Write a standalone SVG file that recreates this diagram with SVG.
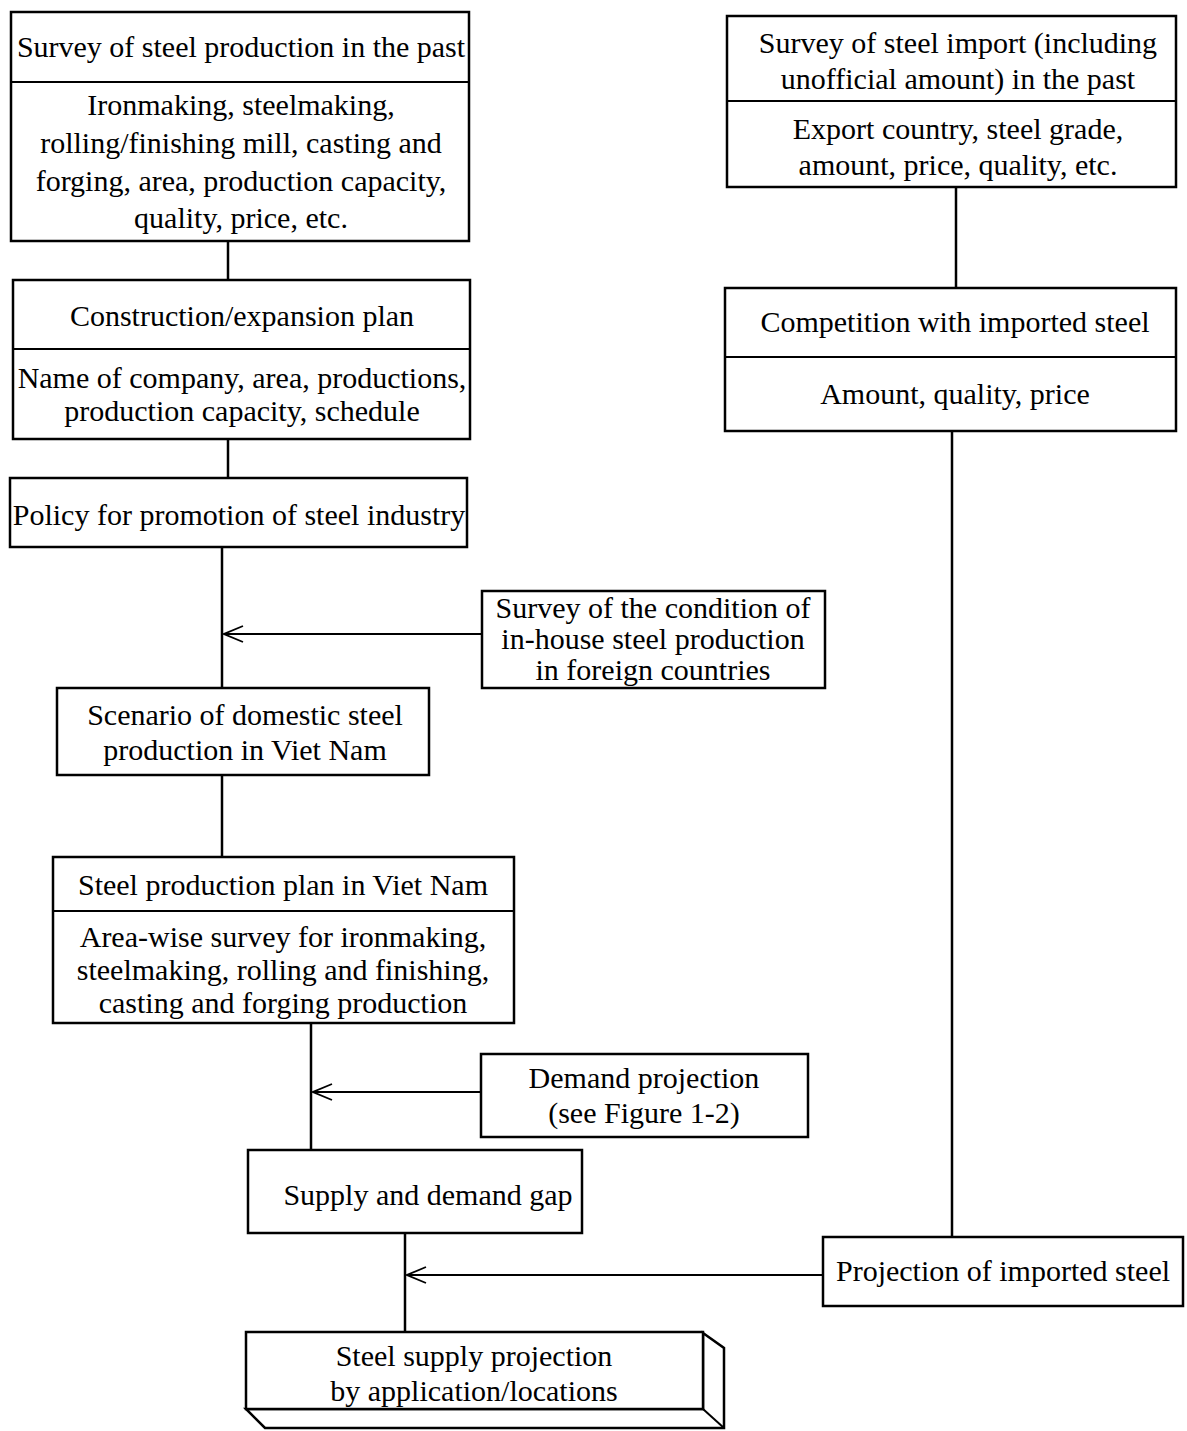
<svg xmlns="http://www.w3.org/2000/svg" width="1187" height="1431" viewBox="0 0 1187 1431">
  <style>
    .box { fill: #fff; stroke: #000; stroke-width: 2.5; }
    .div { stroke: #000; stroke-width: 2; fill: none; }
    .wire { stroke: #000; stroke-width: 2.5; fill: none; }
    .feed { stroke: #000; stroke-width: 1.8; fill: none; }
    text { font-family: "Liberation Serif", "Times New Roman", serif; font-size: 30px; fill: #000; text-anchor: middle; }
  </style>
  <defs>
    <!-- open "<" head; tip sits on the vertical trunk -->
    <marker id="open" markerWidth="22" markerHeight="18" refX="20" refY="9" orient="auto" markerUnits="userSpaceOnUse">
      <path d="M1,1 L20,9 L1,17" fill="none" stroke="#000" stroke-width="1.8"/>
    </marker>
  </defs>

  <g id="connectors">
    <line class="wire" x1="228" y1="241" x2="228" y2="280"/>
    <line class="wire" x1="228" y1="439" x2="228" y2="478"/>
    <line class="wire" x1="222" y1="547" x2="222" y2="688"/>
    <line class="wire" x1="222" y1="775" x2="222" y2="857"/>
    <line class="wire" x1="311" y1="1023" x2="311" y2="1150"/>
    <line class="wire" x1="405" y1="1233" x2="405" y2="1332"/>
    <line class="wire" x1="956" y1="187" x2="956" y2="288"/>
    <line class="wire" x1="952" y1="431" x2="952" y2="1237"/>
    <line class="feed" x1="482" y1="634" x2="224" y2="634" marker-end="url(#open)"/>
    <line class="feed" x1="481" y1="1092" x2="313" y2="1092" marker-end="url(#open)"/>
    <line class="feed" x1="823" y1="1275" x2="407" y2="1275" marker-end="url(#open)"/>
  </g>

  <g id="past-production">
    <rect class="box" x="11" y="12" width="458" height="229"/>
    <line class="div" x1="11" y1="82" x2="469" y2="82"/>
    <text x="241" y="57">Survey of steel production in the past</text>
    <text x="241" y="115">Ironmaking, steelmaking,</text>
    <text x="241" y="153">rolling/finishing mill, casting and</text>
    <text x="241" y="191">forging, area, production capacity,</text>
    <text x="241" y="228">quality, price, etc.</text>
  </g>

  <g id="past-import">
    <rect class="box" x="727" y="16" width="449" height="171"/>
    <line class="div" x1="727" y1="101" x2="1176" y2="101"/>
    <text x="958" y="53">Survey of steel import (including</text>
    <text x="958" y="89">unofficial amount) in the past</text>
    <text x="958" y="139">Export country, steel grade,</text>
    <text x="958" y="175">amount, price, quality, etc.</text>
  </g>

  <g id="expansion-plan">
    <rect class="box" x="13" y="280" width="457" height="159"/>
    <line class="div" x1="13" y1="349" x2="470" y2="349"/>
    <text x="242" y="326">Construction/expansion plan</text>
    <text x="242" y="388">Name of company, area, productions,</text>
    <text x="242" y="421">production capacity, schedule</text>
  </g>

  <g id="policy">
    <rect class="box" x="10" y="478" width="457" height="69"/>
    <text x="239" y="525">Policy for promotion of steel industry</text>
  </g>

  <g id="foreign-survey">
    <rect class="box" x="482" y="591" width="343" height="97"/>
    <text x="653" y="618">Survey of the condition of</text>
    <text x="653" y="649">in-house steel production</text>
    <text x="653" y="680">in foreign countries</text>
  </g>

  <g id="scenario">
    <rect class="box" x="57" y="688" width="372" height="87"/>
    <text x="245" y="725">Scenario of domestic steel</text>
    <text x="245" y="760">production in Viet Nam</text>
  </g>

  <g id="production-plan">
    <rect class="box" x="53" y="857" width="461" height="166"/>
    <line class="div" x1="53" y1="911" x2="514" y2="911"/>
    <text x="283" y="895">Steel production plan in Viet Nam</text>
    <text x="283" y="947">Area-wise survey for ironmaking,</text>
    <text x="283" y="980">steelmaking, rolling and finishing,</text>
    <text x="283" y="1013">casting and forging production</text>
  </g>

  <g id="demand">
    <rect class="box" x="481" y="1054" width="327" height="83"/>
    <text x="644" y="1088">Demand projection</text>
    <text x="644" y="1123">(see Figure 1-2)</text>
  </g>

  <g id="gap">
    <rect class="box" x="248" y="1150" width="334" height="83"/>
    <text x="428" y="1205">Supply and demand gap</text>
  </g>

  <g id="competition">
    <rect class="box" x="725" y="288" width="451" height="143"/>
    <line class="div" x1="725" y1="357" x2="1176" y2="357"/>
    <text x="955" y="332">Competition with imported steel</text>
    <text x="955" y="404">Amount, quality, price</text>
  </g>

  <g id="import-projection">
    <rect class="box" x="823" y="1237" width="360" height="69"/>
    <text x="1003" y="1281">Projection of imported steel</text>
  </g>

  <g id="supply-projection">
    <!-- extruded block: side and bottom faces behind the front face -->
    <path class="box" d="M703,1333 L724,1348 L724,1428 L265,1428 L246,1409 L703,1409 Z"/>
    <line class="div" x1="703" y1="1409" x2="724" y2="1428"/>
    <rect class="box" x="246" y="1332" width="457" height="77"/>
    <text x="474" y="1366">Steel supply projection</text>
    <text x="474" y="1401">by application/locations</text>
  </g>
</svg>
